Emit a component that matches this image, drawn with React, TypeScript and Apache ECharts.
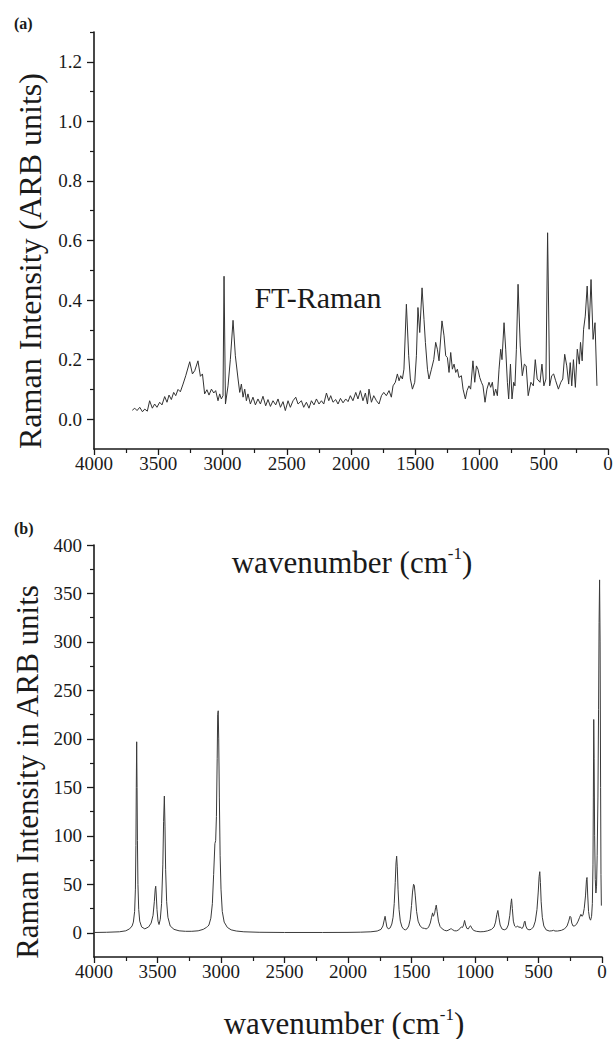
import React, { useEffect, useRef } from "react";
import * as echarts from "echarts";

const FONT = "Liberation Serif";
const INK = "#1a1a1a";

// Panel (a): experimental FT-Raman spectrum [wavenumber, intensity]
const ftRamanSpectrum: [number, number][] = [
  [3702, 0.03], [3683, 0.037], [3665, 0.029], [3644, 0.04], [3623, 0.025], [3605, 0.034],
  [3585, 0.027], [3567, 0.062], [3546, 0.037], [3528, 0.051], [3510, 0.04], [3489, 0.057],
  [3471, 0.048], [3450, 0.076], [3432, 0.057], [3416, 0.081], [3398, 0.066], [3380, 0.09],
  [3364, 0.079], [3346, 0.1], [3328, 0.092], [3307, 0.118], [3286, 0.146], [3255, 0.193],
  [3234, 0.152], [3216, 0.163], [3191, 0.196], [3172, 0.144], [3156, 0.152], [3139, 0.085],
  [3121, 0.099], [3105, 0.081], [3086, 0.101], [3068, 0.088], [3053, 0.096], [3035, 0.062],
  [3022, 0.085], [3009, 0.068], [2996, 0.079], [2988, 0.48], [2977, 0.051], [2957, 0.112],
  [2939, 0.2], [2918, 0.332], [2900, 0.213], [2879, 0.135], [2866, 0.09], [2853, 0.118],
  [2840, 0.074], [2827, 0.101], [2814, 0.062], [2802, 0.085], [2783, 0.051], [2763, 0.074],
  [2744, 0.048], [2724, 0.068], [2705, 0.051], [2685, 0.077], [2664, 0.045], [2646, 0.066],
  [2627, 0.043], [2607, 0.062], [2586, 0.048], [2568, 0.068], [2549, 0.04], [2529, 0.059],
  [2511, 0.029], [2490, 0.062], [2472, 0.04], [2451, 0.062], [2430, 0.074], [2412, 0.051],
  [2386, 0.062], [2368, 0.04], [2347, 0.057], [2327, 0.037], [2308, 0.062], [2288, 0.048],
  [2269, 0.068], [2249, 0.051], [2230, 0.062], [2212, 0.051], [2191, 0.088], [2173, 0.062],
  [2158, 0.079], [2140, 0.057], [2119, 0.066], [2101, 0.051], [2082, 0.07], [2062, 0.055],
  [2041, 0.068], [2023, 0.059], [2005, 0.079], [1985, 0.062], [1963, 0.09], [1946, 0.068],
  [1927, 0.096], [1907, 0.062], [1888, 0.088], [1872, 0.051], [1860, 0.101], [1841, 0.057],
  [1823, 0.079], [1802, 0.062], [1782, 0.051], [1763, 0.079], [1745, 0.09], [1725, 0.079],
  [1704, 0.096], [1686, 0.074], [1673, 0.112], [1655, 0.124], [1639, 0.152], [1626, 0.129],
  [1613, 0.146], [1600, 0.135], [1588, 0.168], [1569, 0.386], [1551, 0.213], [1538, 0.135],
  [1522, 0.101], [1504, 0.124], [1491, 0.213], [1479, 0.375], [1465, 0.291], [1447, 0.441],
  [1432, 0.335], [1421, 0.258], [1405, 0.168], [1393, 0.135], [1374, 0.168], [1356, 0.2],
  [1341, 0.258], [1328, 0.235], [1315, 0.196], [1292, 0.33], [1276, 0.28], [1263, 0.213],
  [1250, 0.207], [1237, 0.157], [1224, 0.224], [1211, 0.168], [1198, 0.185], [1185, 0.157],
  [1172, 0.168], [1160, 0.14], [1141, 0.146], [1128, 0.101], [1110, 0.068], [1097, 0.096],
  [1082, 0.112], [1069, 0.101], [1051, 0.196], [1037, 0.124], [1024, 0.179], [1012, 0.168],
  [998, 0.14], [985, 0.124], [973, 0.112], [957, 0.057], [942, 0.101], [926, 0.124],
  [913, 0.107], [900, 0.124], [887, 0.079], [874, 0.101], [861, 0.079], [848, 0.168],
  [835, 0.235], [825, 0.2], [809, 0.324], [796, 0.235], [783, 0.124], [773, 0.068],
  [759, 0.185], [747, 0.068], [734, 0.124], [724, 0.112], [713, 0.235], [700, 0.453],
  [683, 0.246], [667, 0.146], [651, 0.185], [637, 0.179], [621, 0.079], [600, 0.124],
  [581, 0.112], [566, 0.2], [551, 0.135], [529, 0.124], [514, 0.185], [499, 0.112],
  [483, 0.135], [470, 0.626], [454, 0.112], [438, 0.146], [423, 0.152], [407, 0.129],
  [386, 0.101], [367, 0.124], [352, 0.135], [337, 0.218], [321, 0.179], [306, 0.118],
  [294, 0.19], [282, 0.112], [269, 0.2], [254, 0.107], [239, 0.235], [223, 0.185],
  [214, 0.258], [201, 0.196], [190, 0.302], [177, 0.346], [162, 0.447], [147, 0.302],
  [132, 0.469], [116, 0.268], [101, 0.324], [86, 0.112],
];

// Panel (b): calculated Raman spectrum [wavenumber, intensity]
const calcRamanSpectrum: [number, number][] = [
  [4000, 0.3], [3900, 0.5], [3800, 1], [3750, 2], [3720, 4], [3700, 7], [3690, 11], [3680, 22],
  [3674, 45], [3670, 90], [3667, 150], [3664, 197], [3661, 150], [3658, 95], [3654, 50],
  [3648, 24], [3640, 12], [3625, 6], [3600, 4], [3570, 6], [3550, 10], [3535, 18], [3525, 32],
  [3518, 45], [3514, 48], [3510, 40], [3504, 24], [3496, 12], [3488, 8.5], [3478, 14],
  [3468, 30], [3458, 70], [3452, 115], [3446, 141], [3441, 110], [3436, 65], [3428, 32],
  [3418, 16], [3400, 7], [3370, 3.5], [3330, 2], [3280, 1.5], [3230, 1.5], [3180, 2],
  [3140, 3.5], [3115, 5.5], [3105, 6.5], [3095, 8], [3080, 15], [3068, 30], [3058, 60],
  [3048, 92], [3042, 95], [3036, 120], [3030, 180], [3026, 225], [3022, 229], [3018, 200],
  [3013, 140], [3007, 80], [3000, 45], [2990, 22], [2975, 11], [2950, 5.5], [2920, 3],
  [2880, 1.8], [2820, 1], [2700, 0.5], [2500, 0.3], [2200, 0.3], [2000, 0.4], [1900, 0.6],
  [1820, 1], [1770, 1.8], [1740, 3.5], [1725, 7], [1715, 13], [1708, 17], [1702, 12],
  [1694, 6], [1683, 4], [1668, 5], [1655, 9], [1645, 16], [1636, 30], [1628, 52], [1622, 72],
  [1617, 79], [1612, 68], [1606, 45], [1598, 24], [1588, 12], [1575, 6], [1560, 3.5],
  [1548, 3], [1535, 4], [1522, 7], [1510, 14], [1500, 28], [1492, 42], [1484, 50], [1478, 49],
  [1470, 38], [1460, 22], [1448, 12], [1432, 7], [1415, 5], [1398, 4.5], [1385, 4],
  [1375, 4.5], [1365, 6], [1352, 10], [1342, 16], [1334, 20.5], [1328, 17], [1318, 20],
  [1310, 26], [1305, 28.5], [1298, 22], [1288, 12], [1275, 6.5], [1258, 4], [1240, 2.5],
  [1222, 2], [1205, 3], [1192, 4], [1185, 4], [1175, 3], [1160, 2], [1145, 2], [1128, 3],
  [1115, 5], [1108, 6], [1098, 5.5], [1090, 8], [1082, 12.7], [1074, 8], [1064, 4.5],
  [1052, 4], [1042, 6.5], [1035, 7.2], [1026, 5], [1012, 2.5], [990, 1.5], [960, 1],
  [930, 1.2], [900, 2], [870, 3.5], [850, 6], [838, 11], [828, 19], [820, 23], [812, 16],
  [802, 8], [788, 4], [770, 3], [752, 4], [738, 8], [726, 18], [718, 29], [712, 35],
  [706, 25], [698, 12], [688, 7], [680, 6], [672, 6.2], [664, 7], [655, 5.5], [645, 6],
  [637, 5], [628, 4.5], [618, 7], [611, 11.5], [606, 12], [600, 7], [590, 4], [575, 3],
  [558, 3.5], [540, 6], [525, 12], [512, 24], [502, 42], [495, 58], [490, 63], [485, 52],
  [479, 32], [470, 16], [458, 7], [440, 3], [415, 1.8], [395, 2], [382, 2.5], [370, 1.8],
  [350, 1.8], [320, 2.5], [295, 4], [275, 7], [262, 12], [252, 17], [245, 16], [238, 10],
  [228, 7], [215, 7], [200, 9], [188, 12], [176, 16], [166, 19], [158, 17], [150, 18],
  [140, 25], [130, 38], [122, 55], [118, 57], [113, 40], [106, 22], [98, 15], [90, 13],
  [82, 17], [76, 30], [71, 70], [68, 140], [65, 220], [62, 180], [58, 100], [53, 55],
  [48, 41], [43, 48], [38, 80], [32, 140], [27, 230], [23, 320], [19, 364], [15, 300],
  [11, 150], [8, 60], [5, 28],
];

const xTickStep = 500;
const aMajorTicks = [0, 0.2, 0.4, 0.6, 0.8, 1.0, 1.2];
const aMinorTicks = [0.1, 0.3, 0.5, 0.7, 0.9, 1.1, 1.3];
const bMajorTicks = [0, 50, 100, 150, 200, 250, 300, 350, 400];
const bMinorTicks = [25, 75, 125, 175, 225, 275, 325, 375];

const axisLineStyle = { color: INK, width: 1.6 };

function xAxisFor(gridIndex: number) {
  return {
    type: "value",
    gridIndex,
    min: 0,
    max: 4000,
    interval: xTickStep,
    inverse: true,
    axisLine: { show: true, onZero: false, lineStyle: axisLineStyle },
    axisTick: { show: true, inside: false, length: 6, lineStyle: { color: INK, width: 1.3 } },
    minorTick: { show: true, splitNumber: 2, length: 4, lineStyle: { color: INK, width: 1.2 } },
    axisLabel: {
      fontFamily: FONT, fontSize: 19, color: INK, margin: 5,
      formatter: (v: number) => String(Math.round(v)),
    },
    splitLine: { show: false },
  };
}

function yAxesFor(gridIndex: number, min: number, max: number, major: number[], minor: number[], fmt: (v: number) => string) {
  return [
    {
      type: "value",
      gridIndex,
      min,
      max,
      position: "left",
      axisLine: { show: true, onZero: false, lineStyle: axisLineStyle },
      axisTick: { show: true, inside: false, length: 7, customValues: major, lineStyle: { color: INK, width: 1.3 } },
      axisLabel: { show: true, customValues: major, formatter: fmt, fontFamily: FONT, fontSize: 19, color: INK, margin: 12 },
      splitLine: { show: false },
    },
    {
      type: "value",
      gridIndex,
      min,
      max,
      position: "left",
      axisLine: { show: false, onZero: false },
      axisTick: { show: true, inside: false, length: 4, customValues: minor, lineStyle: { color: INK, width: 1.2 } },
      axisLabel: { show: false },
      splitLine: { show: false },
    },
  ];
}

const titleFont = { fontFamily: FONT, fontSize: 31, fill: INK };

export default function App() {
  const ref = useRef<HTMLDivElement>(null);
  useEffect(() => {
    const chart = echarts.init(ref.current!, null, { renderer: "svg" });
    const option: any = {
      animation: false,
      backgroundColor: "#ffffff",
      grid: [
        { left: 94, top: 32, width: 514, height: 417 },
        { left: 94, top: 545, width: 508, height: 412 },
      ],
      xAxis: [xAxisFor(0), xAxisFor(1)],
      yAxis: [
        ...yAxesFor(0, -0.1, 1.3, aMajorTicks, aMinorTicks, (v: number) => v.toFixed(1)),
        ...yAxesFor(1, -25, 400, bMajorTicks, bMinorTicks, (v: number) => String(Math.round(v))),
      ],
      series: [
        {
          type: "line",
          xAxisIndex: 0,
          yAxisIndex: 0,
          data: ftRamanSpectrum,
          symbol: "none",
          lineStyle: { color: "#333", width: 1 },
        },
        {
          type: "line",
          xAxisIndex: 1,
          yAxisIndex: 2,
          data: calcRamanSpectrum,
          symbol: "none",
          lineStyle: { color: "#3a3a3a", width: 1 },
        },
      ],
      graphic: [
        { type: "text", x: 14, y: 23, style: { text: "(a)", fontFamily: FONT, fontSize: 16, fontWeight: "bold", fill: INK, textVerticalAlign: "middle" } },
        { type: "text", x: 14, y: 528, style: { text: "(b)", fontFamily: FONT, fontSize: 16, fontWeight: "bold", fill: INK, textVerticalAlign: "middle" } },
        {
          type: "text", x: 29.5, y: 261, rotation: Math.PI / 2,
          style: { text: "Raman Intensity (ARB units)", ...titleFont, fontSize: 32, textAlign: "center", textVerticalAlign: "middle" },
        },
        {
          type: "text", x: 27.5, y: 772, rotation: Math.PI / 2,
          style: { text: "Raman Intensity in ARB units", ...titleFont, textAlign: "center", textVerticalAlign: "middle" },
        },
        {
          type: "text", x: 318, y: 297,
          style: { text: "FT-Raman", ...titleFont, fontSize: 30, textAlign: "center", textVerticalAlign: "middle" },
        },
        {
          type: "text", x: 352, y: 562,
          style: {
            text: "{m|wavenumber (cm}{s|-1}{m|)}",
            textAlign: "center", textVerticalAlign: "middle", fill: INK,
            rich: {
              m: { fontFamily: FONT, fontSize: 31, color: INK, lineHeight: 34 },
              s: { fontFamily: FONT, fontSize: 17, color: INK, verticalAlign: "top", lineHeight: 34 },
            },
          },
        },
        {
          type: "text", x: 344, y: 1023,
          style: {
            text: "{m|wavenumber (cm}{s|-1}{m|)}",
            textAlign: "center", textVerticalAlign: "middle", fill: INK,
            rich: {
              m: { fontFamily: FONT, fontSize: 31, color: INK, lineHeight: 34 },
              s: { fontFamily: FONT, fontSize: 17, color: INK, verticalAlign: "top", lineHeight: 34 },
            },
          },
        },
      ],
    };
    chart.setOption(option);
    return () => chart.dispose();
  }, []);
  return (
    <div
      ref={ref}
      style={{ position: "absolute", left: 0, top: 0, width: 616, height: 1039, background: "#fff" }}
    />
  );
}
